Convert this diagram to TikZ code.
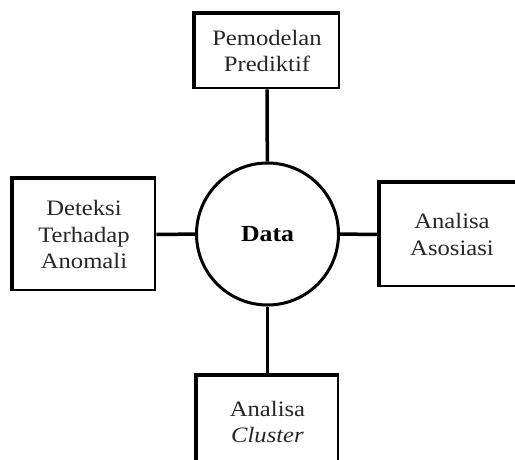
\documentclass[tikz,border=0pt]{standalone}
\usepackage{fontspec}
\setmainfont{Liberation Serif}[FakeStretch=1.12]
\usepackage{tikz}

\tikzset{
  kotak/.style={draw, line width=2.6pt, inner sep=0pt, align=center, text=black!85,
    font=\fontsize{22}{26.5}\selectfont},
  garis/.style={line width=3.5pt}
}

\begin{document}
\begin{tikzpicture}[x=1pt,y=-1pt]
\useasboundingbox (0,0) rectangle (515,459);
\node[draw, circle, line width=3pt, minimum size=142pt, inner sep=0pt,
  font=\fontsize{23}{27}\selectfont\bfseries] (data) at (267.5,234) {Data};
\node[kotak, minimum width=144pt, minimum height=74pt] (prediktif) at (267,51) {Pemodelan\\Prediktif};
\node[kotak, minimum width=142pt, minimum height=111pt] (anomali) at (84,234.5) {Deteksi\\Terhadap\\Anomali};
\node[kotak, minimum width=144pt, minimum height=103pt] (asosiasi) at (452,234.5) {Analisa\\Asosiasi};
\node[kotak, minimum width=141pt, minimum height=92pt] (cluster) at (267.5,422) {Analisa\\\textit{Cluster}};
% sisi atas dan kiri kotak lebih tebal
\foreach \k in {prediktif,anomali,asosiasi,cluster}
\draw[line width=4.2pt, line join=miter] (\k.south west) -- (\k.north west) -- (\k.north east);
\draw[garis] (prediktif) -- (data);
\draw[garis] (anomali) -- (data);
\draw[garis] (data) -- (asosiasi);
\draw[garis] (data) -- (cluster);
\end{tikzpicture}
\end{document}
